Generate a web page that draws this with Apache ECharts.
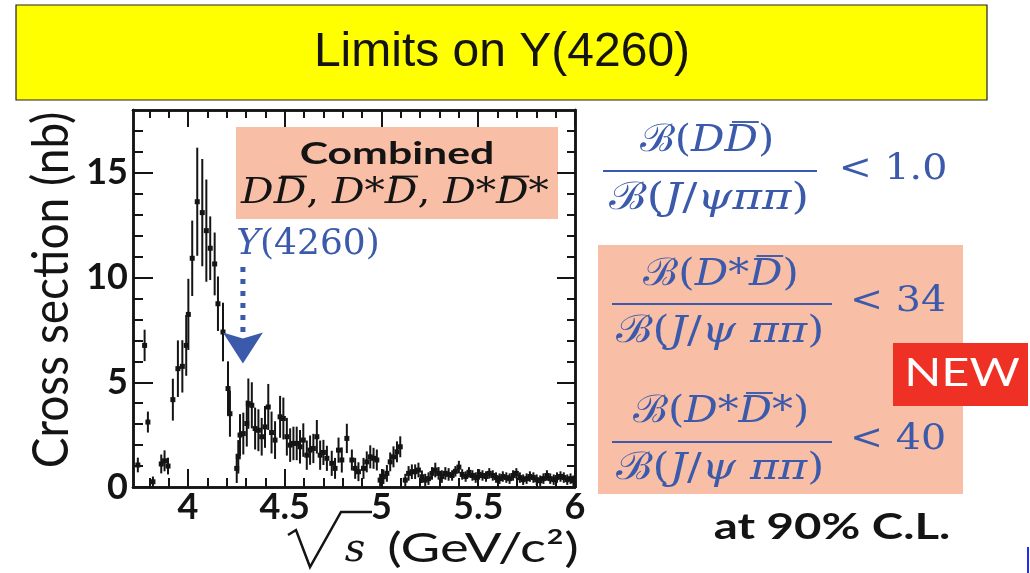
<!DOCTYPE html>
<html>
<head>
<meta charset="utf-8">
<script src="https://cdn.jsdelivr.net/npm/echarts@6/dist/echarts.min.js"></script>
<style>
  html, body { margin: 0; padding: 0; background: #ffffff; }
  #chart { width: 1030px; height: 573px; }
</style>
</head>
<body>
<div id="chart"></div>
<script>
// Combined D D-bar, D* D-bar, D* D*-bar exclusive cross section vs. sqrt(s)
const energy = [
  3.741, 3.776, 3.793, 3.819, 3.862, 3.879, 3.897, 3.922, 3.948, 3.971,
  3.991, 4.002, 4.022, 4.048, 4.074, 4.095, 4.115, 4.138, 4.155, 4.181,
  4.207, 4.217, 4.252, 4.260, 4.269, 4.286, 4.304, 4.312, 4.330, 4.347,
  4.364, 4.381, 4.398, 4.415, 4.432, 4.450, 4.476, 4.493, 4.511, 4.528,
  4.545, 4.562, 4.579, 4.596, 4.614, 4.631, 4.648, 4.666, 4.683, 4.700,
  4.718, 4.743, 4.760, 4.778, 4.795, 4.821, 4.847, 4.864, 4.881, 4.907,
  4.924, 4.942, 4.959, 4.976, 4.993, 5.010, 5.028, 5.045, 5.062, 5.080,
  5.097, 5.123, 5.140, 5.157, 5.174, 5.191, 5.209, 5.226, 5.243, 5.261,
  5.278, 5.295, 5.312, 5.330, 5.347, 5.365, 5.382, 5.400, 5.417, 5.435,
  5.452, 5.470, 5.487, 5.505, 5.522, 5.540, 5.557, 5.575, 5.592, 5.610,
  5.627, 5.645, 5.662, 5.680, 5.697, 5.715, 5.732, 5.750, 5.767, 5.785,
  5.802, 5.820, 5.837, 5.855, 5.872, 5.890, 5.907, 5.925, 5.942, 5.960,
  5.977, 5.992
];
const xsec = [
  1.05, 6.76, 3.10, 0.25, 1.10, 1.25, 1.00, 4.17, 5.65, 5.76,
  6.76, 8.24, 10.92, 13.62, 13.10, 12.24, 11.40, 10.65, 8.75, 7.40,
  4.70, 3.50, 0.89, 1.44, 2.48, 2.55, 3.03, 3.98, 3.90, 2.79,
  2.71, 2.40, 2.87, 3.82, 2.60, 2.24, 3.35, 3.27, 2.40, 2.00,
  2.08, 2.08, 1.92, 2.24, 1.52, 1.76, 1.84, 2.40, 1.52, 1.65,
  1.37, 1.13, 0.89, 1.76, 1.29, 2.32, 1.29, 0.89, 0.73, 0.89,
  1.20, 1.44, 1.37, 1.29, 0.33, 0.49, 0.65, 1.20, 1.44, 1.68,
  1.92, 0.33, 0.65, 0.73, 0.73, 0.81, 0.49, 0.33, 0.40, 0.65,
  0.81, 0.65, 0.50, 0.65, 0.60, 0.55, 0.75, 0.95, 0.60, 0.50,
  0.70, 0.55, 0.45, 0.60, 0.55, 0.50, 0.65, 0.55, 0.45, 0.40,
  0.50, 0.45, 0.40, 0.55, 0.65, 0.45, 0.35, 0.40, 0.50, 0.45,
  0.35, 0.30, 0.40, 0.55, 0.40, 0.35, 0.45, 0.50, 0.45, 0.35,
  0.40, 0.30
];
const xsecErr = [
  0.35, 0.75, 0.50, 0.25, 0.45, 0.50, 0.40, 1.00, 1.35, 1.25,
  1.45, 1.70, 1.80, 2.58, 2.56, 2.44, 1.52, 1.50, 1.30, 1.40,
  1.30, 1.10, 0.70, 0.80, 1.00, 1.00, 1.10, 1.20, 1.10, 1.00,
  1.00, 0.90, 1.00, 1.10, 1.00, 0.90, 1.00, 1.00, 0.90, 0.80,
  0.80, 0.80, 0.80, 0.80, 0.70, 0.70, 0.70, 0.80, 0.70, 0.60,
  0.60, 0.60, 0.50, 0.60, 0.60, 0.70, 0.50, 0.50, 0.45, 0.50,
  0.50, 0.55, 0.50, 0.50, 0.30, 0.35, 0.40, 0.45, 0.50, 0.50,
  0.50, 0.30, 0.35, 0.35, 0.35, 0.35, 0.30, 0.30, 0.30, 0.30,
  0.35, 0.30, 0.30, 0.30, 0.30, 0.25, 0.25, 0.30, 0.25, 0.25,
  0.25, 0.25, 0.25, 0.25, 0.25, 0.25, 0.25, 0.25, 0.25, 0.25,
  0.25, 0.25, 0.25, 0.25, 0.25, 0.25, 0.25, 0.25, 0.25, 0.25,
  0.25, 0.25, 0.25, 0.25, 0.25, 0.25, 0.25, 0.25, 0.25, 0.25,
  0.25, 0.25
];

// Axis ticks (GeV and nb)
const xMajorTicks = [4, 4.5, 5, 5.5, 6];
const xMinorTicks = [3.8, 3.9, 4.1, 4.2, 4.3, 4.4, 4.6, 4.7, 4.8, 4.9,
                     5.1, 5.2, 5.3, 5.4, 5.6, 5.7, 5.8, 5.9];
const yMajorTicks = [0, 5, 10, 15];
const yMinorTicks = [1, 2, 3, 4, 6, 7, 8, 9, 11, 12, 13, 14, 16, 17];
const xRange = [3.716, 6.0];
const yRange = [0, 18];

// Y(4260) marker: energy, top of dotted shaft and arrow tip (nb)
const y4260Arrow = [4.284, 10.5, 5.9];

const binHalfWidth = 0.008;
const ink = '#141414';
const mathBlue = '#3c5aab';
const salmon = '#f9bfa6';
const mathFont = 'DejaVu Serif';
const OB = '\u0305';   // marks the preceding letter as barred (drawn as a rule)
const calB = '\u212C';

const chart = echarts.init(document.getElementById('chart'), null, { renderer: 'canvas' });

function renderPoint(params, api) {
  const s = api.value(0), v = api.value(1), e = api.value(2);
  const c = api.coord([s, v]);
  const hi = api.coord([s, v + e]);
  const lo = api.coord([s, Math.max(0, v - e)]);
  const l = api.coord([s - binHalfWidth, v]);
  const r = api.coord([s + binHalfWidth, v]);
  return {
    type: 'group',
    children: [
      { type: 'line', shape: { x1: c[0], y1: hi[1], x2: c[0], y2: lo[1] },
        style: { stroke: ink, lineWidth: 2 } },
      { type: 'line', shape: { x1: l[0], y1: c[1], x2: r[0], y2: c[1] },
        style: { stroke: ink, lineWidth: 2.2 } },
      { type: 'rect', shape: { x: c[0] - 2.5, y: c[1] - 2.5, width: 5, height: 5 },
        style: { fill: ink } }
    ]
  };
}

function renderArrow(params, api) {
  const s = api.value(0);
  const top = api.coord([s, api.value(1)]);
  const tip = api.coord([s, api.value(2)]);
  const headH = 31, headW = 40;
  return {
    type: 'group',
    children: [
      { type: 'line', shape: { x1: top[0], y1: top[1], x2: tip[0], y2: tip[1] - headH + 4 },
        style: { stroke: mathBlue, lineWidth: 5, lineDash: [5, 7] } },
      { type: 'polygon',
        shape: { points: [[tip[0] - headW / 2, tip[1] - headH], [tip[0], tip[1] - headH + 6],
                          [tip[0] + headW / 2, tip[1] - headH], [tip[0], tip[1]]] },
        style: { fill: mathBlue } }
    ]
  };
}

function xAxisDef(position, ticks, len, withLabels) {
  return {
    type: 'value', position: position, min: xRange[0], max: xRange[1],
    axisLine: { show: true, onZero: false, lineStyle: { color: ink, width: 2.5 } },
    axisTick: { show: true, inside: true, length: len, customValues: ticks,
                lineStyle: { color: ink, width: 2 } },
    axisLabel: withLabels ? {
      show: true, customValues: xMajorTicks, margin: 2,
      fontFamily: 'Lato', fontWeight: 'bold', fontSize: 36, color: ink,
      formatter: v => String(Number(v.toFixed(1)))
    } : { show: false },
    splitLine: { show: false }
  };
}

function yAxisDef(position, ticks, len, withLabels) {
  return {
    type: 'value', position: position, min: yRange[0], max: yRange[1],
    axisLine: { show: true, onZero: false, lineStyle: { color: ink, width: 2.5 } },
    axisTick: { show: true, inside: true, length: len, customValues: ticks,
                lineStyle: { color: ink, width: 2 } },
    axisLabel: withLabels ? {
      show: true, customValues: yMajorTicks, margin: 5,
      fontFamily: 'Lato', fontWeight: 'bold', fontSize: 36, color: ink,
      formatter: v => String(Math.round(v))
    } : { show: false },
    splitLine: { show: false }
  };
}

function txt(text, x, y, o) {
  return {
    type: 'text', x: x, y: y, z: 20,
    scaleX: o.sx || 1, scaleY: o.sy || 1, rotation: o.rot || 0,
    style: {
      text: text, fill: o.color || ink,
      fontFamily: o.family || 'Lato', fontSize: o.size || 30,
      fontWeight: o.weight || 'normal', fontStyle: o.style || 'normal',
      align: o.align || 'center', verticalAlign: o.valign || 'middle'
    }
  };
}

function hline(x1, x2, y, color, w) {
  return { type: 'line', z: 20, shape: { x1: x1, y1: y, x2: x2, y2: y },
           style: { stroke: color, lineWidth: w } };
}

// Lays out a math string glyph by glyph: latin/greek letters in italic,
// everything else upright; a letter followed by OB gets an over-bar.
const measureCtx = document.createElement('canvas').getContext('2d');
function mathRow(str, cx, cy, size, color, sx) {
  const glyphs = [];
  const chars = Array.from(str);
  for (let i = 0; i < chars.length; i++) {
    const ch = chars[i];
    if (ch === OB) { if (glyphs.length) glyphs[glyphs.length - 1].bar = true; continue; }
    const italic = /[A-Za-z\u03B1-\u03C9]/.test(ch);
    glyphs.push({ ch: ch, italic: italic, bar: false });
  }
  glyphs.forEach(g => {
    measureCtx.font = (g.italic ? 'italic ' : '') + size + 'px "' + mathFont + '"';
    g.w = measureCtx.measureText(g.ch).width * sx;
  });
  const total = glyphs.reduce((a, g) => a + g.w, 0);
  let x = cx - total / 2;
  const out = [];
  glyphs.forEach(g => {
    out.push({
      type: 'text', x: x, y: cy, z: 20, scaleX: sx,
      style: { text: g.ch, fill: color, fontFamily: mathFont, fontSize: size,
               fontStyle: g.italic ? 'italic' : 'normal',
               align: 'left', verticalAlign: 'middle' }
    });
    if (g.bar) {
      const by = cy - size * 0.5;
      out.push(hline(x + g.w * 0.22, x + g.w * 1.02, by, color, Math.max(1.6, size * 0.05)));
    }
    x += g.w;
  });
  return out;
}

const graphics = [
  // title banner
  { type: 'rect', z: 1, shape: { x: 16, y: 5, width: 971, height: 95 },
    style: { fill: '#ffff00', stroke: '#222', lineWidth: 1.2 } },
  txt('Limits on Y(4260)', 502, 53, { family: 'Liberation Sans', size: 48 }),

  // legend box inside the plot
  { type: 'rect', z: 0, shape: { x: 236, y: 127, width: 322, height: 92 },
    style: { fill: salmon } },
  txt('Combined', 397, 154, { size: 31, weight: 'bold', sx: 1.38 }),
  ...mathRow('DD' + OB + ', D*D' + OB + ', D*D' + OB + '*', 395, 194, 35, ink, 1.16),

  // Y(4260) label
  ...mathRow('Y(4260)', 308, 245, 36, mathBlue, 1.0),

  // y-axis title
  txt('Cross section (nb)', 52, 290, { size: 46, rot: Math.PI / 2, sy: 1.1 }),

  // x-axis title: sqrt(s) (GeV/c^2)
  { type: 'polyline', z: 20,
    shape: { points: [[288, 535], [296, 530], [310, 567], [341, 512], [372, 512]] },
    style: { stroke: ink, lineWidth: 2.5, fill: null } },
  txt('s', 355, 551, { family: mathFont, size: 40, style: 'italic' }),
  txt('(GeV/c\u00B2)', 483, 549, { size: 40, sx: 1.36 }),

  // right-hand panel with branching-fraction limits
  { type: 'rect', z: 0, shape: { x: 598, y: 245, width: 365, height: 249 },
    style: { fill: salmon } },

  ...mathRow(calB + '(DD' + OB + ')', 707, 141, 38, mathBlue, 1.1),
  hline(603, 817, 171, mathBlue, 2),
  ...mathRow(calB + '(J/\u03C8\u03C0\u03C0)', 709, 199, 38, mathBlue, 1.18),
  txt('< 1.0', 893, 170, { family: mathFont, size: 36, color: mathBlue, sx: 1.1 }),

  ...mathRow(calB + '(D*D' + OB + ')', 721, 275, 38, mathBlue, 1.1),
  hline(612, 832, 304, mathBlue, 2),
  ...mathRow(calB + '(J/\u03C8 \u03C0\u03C0)', 720, 332, 38, mathBlue, 1.15),
  txt('< 34', 898, 302, { family: mathFont, size: 36, color: mathBlue, sx: 1.1 }),

  ...mathRow(calB + '(D*D' + OB + '*)', 721, 412, 38, mathBlue, 1.1),
  hline(612, 832, 442, mathBlue, 2),
  ...mathRow(calB + '(J/\u03C8 \u03C0\u03C0)', 720, 469, 38, mathBlue, 1.15),
  txt('< 40', 898, 440, { family: mathFont, size: 36, color: mathBlue, sx: 1.1 }),

  // NEW badge
  { type: 'rect', z: 15, shape: { x: 893, y: 343, width: 135, height: 63 },
    style: { fill: '#ee3124' } },
  txt('NEW', 962, 374, { size: 38, color: '#ffffff', sx: 1.28 }),

  txt('at 90% C.L.', 832, 527, { size: 37, weight: 'bold', sx: 1.28 }),

  // small blue mark at the lower right corner
  { type: 'line', z: 20, shape: { x1: 1028, y1: 547, x2: 1028, y2: 573 },
    style: { stroke: '#1a2cff', lineWidth: 2 } }
];

const option = {
  backgroundColor: '#ffffff',
  animation: false,
  grid: { left: 133, right: 455, top: 110, bottom: 86, containLabel: false },
  xAxis: [
    xAxisDef('bottom', xMinorTicks, 9, true),
    xAxisDef('bottom', xMajorTicks, 18, false),
    xAxisDef('top', xMinorTicks, 8, false),
    xAxisDef('top', xMajorTicks, 17, false)
  ],
  yAxis: [
    yAxisDef('left', yMinorTicks, 10, true),
    yAxisDef('left', yMajorTicks, 20, false),
    yAxisDef('right', yMinorTicks, 8, false),
    yAxisDef('right', yMajorTicks, 18, false)
  ],
  series: [
    {
      type: 'custom', name: 'Cross section', xAxisIndex: 0, yAxisIndex: 0, z: 5,
      clip: true,
      renderItem: renderPoint,
      data: energy.map((s, i) => [s, xsec[i], xsecErr[i]])
    },
    {
      type: 'custom', name: 'Y(4260)', xAxisIndex: 0, yAxisIndex: 0, z: 6,
      renderItem: renderArrow,
      data: [y4260Arrow]
    }
  ],
  graphic: graphics
};

chart.setOption(option);
</script>
</body>
</html>
